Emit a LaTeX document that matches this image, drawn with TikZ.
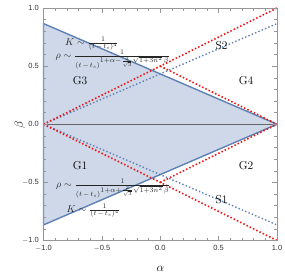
\documentclass[tikz,border=0pt]{standalone}
\usepackage{fontspec}
\setsansfont{Liberation Sans}
\definecolor{mblue}{RGB}{94,129,181}
\definecolor{mfill}{RGB}{206,216,233}
\definecolor{mred}{RGB}{236,22,22}
\definecolor{frame}{RGB}{150,150,150}
\tikzset{
  bdot/.style={mblue, line width=1.4pt, dash pattern=on 1.4pt off 2.2pt},
  rdot/.style={mred, line width=1.6pt, dash pattern=on 1.5pt off 2.1pt},
  region/.style={font=\fontsize{11.5}{13}\selectfont, inner sep=0pt},
  formula/.style={font=\fontsize{10}{12}\selectfont, inner sep=0pt, anchor=base west, text=black!85},
  ticklab/.style={font=\sffamily\fontsize{7.5}{9}\selectfont, text=black!80, inner sep=0pt},
  axlab/.style={font=\fontsize{13}{15}\selectfont, inner sep=0pt}
}
\newcommand\mm{\kern1pt{-}\kern1pt}
\begin{document}
\begin{tikzpicture}[x=1pt,y=1pt]
\useasboundingbox (0,0) rectangle (285,277);
\begin{scope}[shift={(160.25,152.75)}, x=116.75pt, y=116.25pt]
  % shaded region
  \fill[mfill] (-1,0.866) -- (1,0) -- (-1,-0.866) -- cycle;
  % beta = 0 line
  \draw[black!60, line width=0.6pt] (-1,0) -- (1,0);
  % solid region boundary
  \draw[mblue, line width=1.4pt, line join=round] (1,0) -- (-1,0.866) -- (-1,-0.866) -- cycle;
  % dotted curves
  \draw[bdot] (-1,0) -- (1,0.866);
  \draw[bdot] (-1,0) -- (1,-0.866);
  \draw[rdot] (-1,0) -- (1,1);
  \draw[rdot] (-1,0) -- (1,-1);
  \draw[rdot] (0,0.5) -- (1,0);
  \draw[rdot] (0,-0.5) -- (1,0);
  % frame
  \draw[frame, line width=0.5pt] (-1,-1) rectangle (1,1);
  \foreach \t in {-0.9,-0.8,-0.7,-0.6,-0.4,-0.3,-0.2,-0.1,0.1,0.2,0.3,0.4,0.6,0.7,0.8,0.9}{
    \draw[frame, line width=0.4pt] (\t,-1) -- ++(0,2.5pt);
    \draw[frame, line width=0.4pt] (\t,1) -- ++(0,-2.5pt);
    \draw[frame, line width=0.4pt] (-1,\t) -- ++(2.5pt,0);
    \draw[frame, line width=0.4pt] (1,\t) -- ++(-2.5pt,0);
  }
  \foreach \t in {-1,-0.5,0,0.5,1}{
    \draw[frame, line width=0.5pt] (\t,-1) -- ++(0,4.5pt);
    \draw[frame, line width=0.5pt] (\t,1) -- ++(0,-4.5pt);
    \draw[frame, line width=0.5pt] (-1,\t) -- ++(4.5pt,0);
    \draw[frame, line width=0.5pt] (1,\t) -- ++(-4.5pt,0);
  }
  \foreach \t/\l in {-1/{$-$1.0},-0.5/{$-$0.5},0/0.0,0.5/0.5,1/1.0}{
    \node[ticklab, anchor=north] (bx\l) at ([yshift=-5pt]\t,-1) {\l};
    \node[ticklab, anchor=east] (ly\l) at ([xshift=-4.5pt]-1,\t) {\l};
  }
\end{scope}
% axis labels
\node[axlab] (alpha) at (160.5,8) {$\alpha$};
\node[axlab, rotate=90] (beta) at (20,152) {$\beta$};
% region labels
\node[region] (g3) at (80,196.5) {G3};
\node[region] (g4) at (246,196.5) {G4};
\node[region] (g1) at (80,111) {G1};
\node[region] (g2) at (246,111) {G2};
\node[region] (s2) at (221.5,231) {S2};
\node[region] (s1) at (221.5,77) {S1};
% formulas
\node[formula] (k1) at (65,231.8) {$K\sim\frac{1}{(t\mm t_s)^4}$};
\node[formula] (r1) at (55.5,218.8) {$\rho\sim\frac{1}{(t\mm t_s)^{\scriptstyle 1+\alpha-\frac{2}{\sqrt{3}}\sqrt{1+3n^2}\,\beta}}$};
\node[formula] (r2) at (56,89.5) {$\rho\sim\frac{1}{(t\mm t_s)^{\scriptstyle 1+\alpha+\frac{2}{\sqrt{3}}\sqrt{1+3n^2}\,\beta}}$};
\node[formula] (k2) at (66.5,64.5) {$K\sim\frac{1}{(t\mm t_s)^4}$};
\end{tikzpicture}
\end{document}
